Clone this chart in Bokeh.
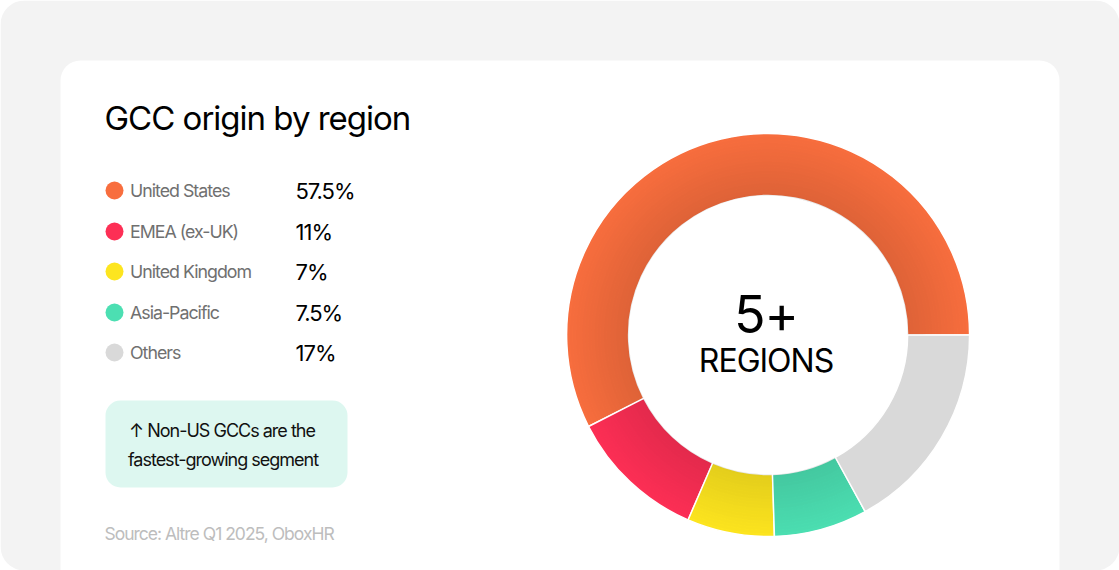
from bokeh.core.properties import value
from bokeh.embed import file_html
from bokeh.models import Range1d
from bokeh.plotting import figure
from bokeh.resources import INLINE
import numpy as np

# data
categories = ['United States', 'EMEA (ex-UK)', 'United Kingdom', 'Asia-Pacific', 'Others']
shares = [57.5, 11, 7, 7.5, 17]
share_labels = ['57.5%', '11%', '7%', '7.5%', '17%']
colors = ['#F86E3E', '#FD2F55', '#FDE51F', '#4CDFB2', '#D9D9D9']
shaded = [True, True, True, True, False]

# y runs upward from the window bottom
WIN_W, WIN_H = 1119, 570
p = figure(width=WIN_W, height=WIN_H, output_backend="svg", toolbar_location=None,
           x_range=Range1d(0, WIN_W), y_range=Range1d(0, WIN_H),
           background_fill_color='#FFFFFF', border_fill_color='#FFFFFF',
           min_border=0, outline_line_color=None)
p.axis.visible = False
p.grid.visible = False
# the reference text is set tight, letter-spacing inherits down into the svg
p.styles = {'letter-spacing': '-1px'}


def Y(top):
    return WIN_H - top


def label(x, top, text, size, color='#000000', align='left'):
    p.text([x], [Y(top)], text=[text], text_font=value('Inter'), text_font_size=f'{size}px',
           text_color=color, text_align=align, text_baseline='middle')


# grey panel and white card
p.quad(left=[0], right=[WIN_W], top=[WIN_H], bottom=[0], fill_color='#F3F3F3',
       line_color=None, border_radius=24)
p.quad(left=[60], right=[1059], top=[Y(60)], bottom=[-30], fill_color='#FFFFFF',
       line_color=None, border_radius=20)

label(104, 117.5, 'GCC origin by region', 33)

# legend rows
rows = [190, 231, 271, 312, 352]
for top, cat, txt, col in zip(rows, categories, share_labels, colors):
    p.scatter([114], [Y(top)], size=18, fill_color=col, line_color=None)
    label(129.5, top, cat, 17.8, '#707070')
    label(295, top, txt, 22)

# callout, centred text sits left of centre once the spacing is applied
p.quad(left=[105], right=[347], top=[Y(400)], bottom=[Y(487)], fill_color='#DDF7F0',
       line_color=None, border_radius=15)
label(232, 430, '↑ Non-US GCCs are the', 18, '#111111', 'center')
label(234, 459, 'fastest-growing segment', 18, '#111111', 'center')
label(104, 533, 'Source: Altre Q1 2025, OboxHR', 17.5, '#BDBDBD')

# donut
cx, cy, r_out, r_in = 767.6, Y(334.5), 201.5, 139.5
ang = np.radians(np.cumsum([0] + shares) * 3.6)
p.annular_wedge([cx] * 5, [cy] * 5, r_in, r_out, ang[:-1], ang[1:], fill_color=colors,
                line_color='#FFFFFF', line_width=1.5)
# inner shade: thin dark rings on the coloured slices, stronger toward the hole
steps = 20
edges = np.linspace(r_in, r_out, steps + 1)
for i in range(steps):
    for a0, a1, on in zip(ang[:-1], ang[1:], shaded):
        if on:
            p.annular_wedge([cx], [cy], edges[i], edges[i + 1], a0 + 0.004, a1 - 0.004,
                            fill_color='#000000', fill_alpha=0.1 * (1 - i / steps),
                            line_color=None)

label(766.5, 313, '5+', 52, align='center')
label(769, 360, 'REGIONS', 32, align='center')

open("out.html", "w").write(file_html(p, INLINE))
